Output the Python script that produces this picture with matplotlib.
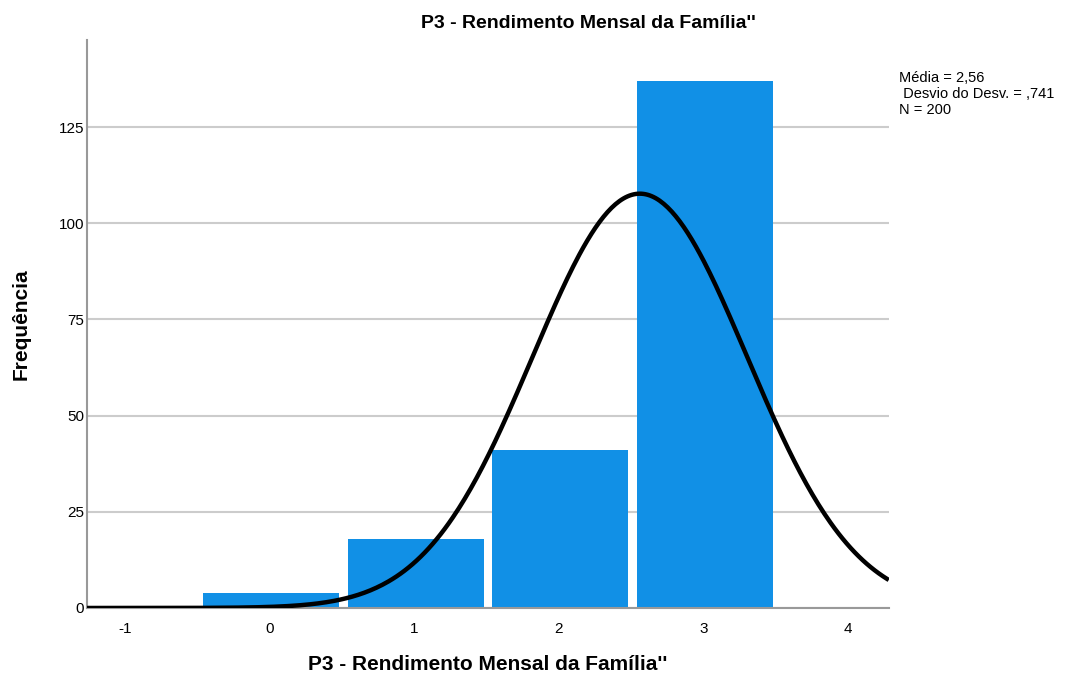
import numpy as np
import matplotlib.pyplot as plt

plt.rcParams['font.family'] = ['Liberation Sans', 'DejaVu Sans']
plt.rcParams['axes.unicode_minus'] = False

valores = [0, 1, 2, 3]
frequencias = [4, 18, 41, 137]
media = 2.56
desvio = 0.741
n = 200

fig = plt.figure(figsize=(10.69, 6.79), dpi=100)
ax = fig.add_axes([0.0814, 0.1046, 0.750, 0.8364])

ax.bar(np.array(valores) + 0.01, frequencias, width=0.94, color='#1190e6', zorder=2)

# curva normal escalada para a frequencia (largura da classe = 1)
x = np.linspace(-1.26, 4.28, 400)
y = n * 1.0 / (desvio * np.sqrt(2 * np.pi)) * np.exp(-0.5 * ((x - media) / desvio) ** 2)
ax.plot(x, y, color='black', lw=3.2, zorder=3, solid_capstyle='butt')

ax.set_xlim(-1.26, 4.28)
ax.set_ylim(0, 147.6)
ax.set_xticks([-1, 0, 1, 2, 3, 4])
ax.set_yticks([0, 25, 50, 75, 100, 125])
ax.yaxis.grid(True, color='#cccccc', lw=1.5, zorder=1)
ax.tick_params(axis='y', length=0, labelsize=11, pad=2)
ax.tick_params(axis='x', length=0, labelsize=11, pad=10)
for s in ['top', 'right']:
    ax.spines[s].set_visible(False)
for s in ['left', 'bottom']:
    ax.spines[s].set_color('#999999')
    ax.spines[s].set_linewidth(1.5)

fig.text(0.55, 0.965, "P3 - Rendimento Mensal da Família''", fontsize=14, fontweight='bold',
         ha='center', va='center')
ax.set_xlabel("P3 - Rendimento Mensal da Família''", fontsize=15, fontweight='bold', labelpad=14)
ax.set_ylabel("Frequência", fontsize=15, fontweight='bold', labelpad=20)

fig.text(0.841, 0.895, "Média = 2,56\n Desvio do Desv. = ,741\nN = 200", fontsize=10.5,
         va='top', ha='left', linespacing=1.15)

fig.savefig('out.png', dpi=100)
